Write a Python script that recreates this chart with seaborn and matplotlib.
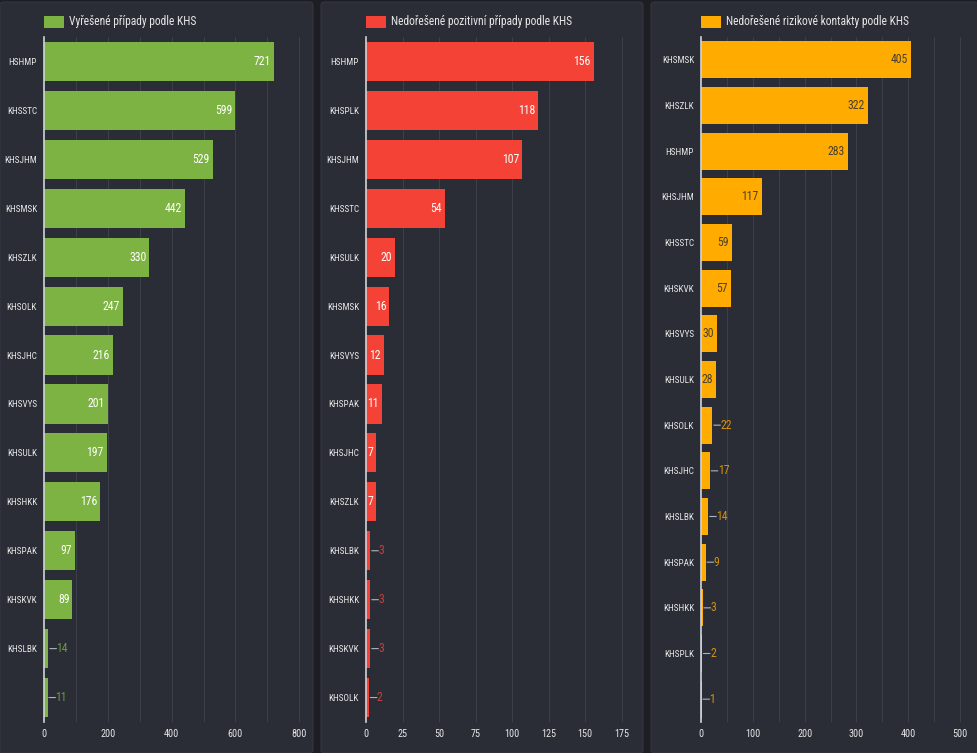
import matplotlib
matplotlib.use("Agg")
import matplotlib.pyplot as plt
from matplotlib import font_manager as fm
from matplotlib.patches import FancyBboxPatch, Rectangle
import seaborn as sns
import pandas as pd
import numpy as np

# ---------------- data ----------------
titles = ["Vyřešené případy podle KHS",
          "Nedořešené pozitivní případy podle KHS",
          "Nedořešené rizikové kontakty podle KHS"]

cat_solved = ["HSHMP", "KHSSTC", "KHSJHM", "KHSMSK", "KHSZLK", "KHSOLK", "KHSJHC",
              "KHSVYS", "KHSULK", "KHSHKK", "KHSPAK", "KHSKVK", "KHSLBK", ""]
val_solved = [721, 599, 529, 442, 330, 247, 216, 201, 197, 176, 97, 89, 14, 11]
lab_solved = [True] * 14

cat_pos = ["HSHMP", "KHSPLK", "KHSJHM", "KHSSTC", "KHSULK", "KHSMSK", "KHSVYS",
           "KHSPAK", "KHSJHC", "KHSZLK", "KHSLBK", "KHSHKK", "KHSKVK", "KHSOLK"]
val_pos = [156, 118, 107, 54, 20, 16, 12, 11, 7, 7, 3, 3, 3, 2]
lab_pos = [True] * 14

cat_cont = ["KHSMSK", "KHSZLK", "HSHMP", "KHSJHM", "KHSSTC", "KHSKVK", "KHSVYS",
            "KHSULK", "KHSOLK", "KHSJHC", "KHSLBK", "KHSPAK", "KHSHKK", "KHSPLK", ""]
val_cont = [405, 322, 283, 117, 59, 57, 30, 28, 22, 17, 14, 9, 3, 2, 1]
lab_cont = [True] * 15

x_ticks = [[0, 200, 400, 600, 800],
           [0, 25, 50, 75, 100, 125, 150, 175],
           [0, 100, 200, 300, 400, 500]]

# ---------------- style ----------------
W, H = 978, 753
FIG_BG = "#1c1e23"
PANEL_BG = "#2a2d36"
GRID = "#3b3f49"
TXT = "#e6e6e6"
LEADER = "#aeb3bb"
colors = ["#7cb342", "#f44336", "#ffab00"]
inside_text = ["white", "white", "#4a4030"]
outside_thresh = [20, 5, 25]      # values below are labelled outside
x_max = [818, 182, 519]
grid_step = [100, 25, 50]
bar_w = [0.8, 0.8, 0.81]

available = {f.name for f in fm.fontManager.ttflist}
font_choice = "Roboto"
for cand in ["Roboto Condensed", "Liberation Sans Narrow", "Open Sans Condensed",
             "Archivo Narrow", "PT Sans Narrow"]:
    if cand in available:
        font_choice = cand
        break
plt.rcParams["font.family"] = [font_choice, "DejaVu Sans"]

fig = plt.figure(figsize=(W / 100, H / 100), dpi=100, facecolor=FIG_BG)

panels_px = [(0, 313), (321, 643), (651, 978)]
axes_px = [(44, 305), (366, 632), (701, 970)]
ax_top, ax_bot = 37, 722

for (px0, px1) in panels_px:
    fig.patches.append(FancyBboxPatch((px0 / W, 0), (px1 - px0) / W, (H - 2) / H,
                                      boxstyle="round,pad=0,rounding_size=0.004",
                                      transform=fig.transFigure, facecolor=PANEL_BG,
                                      edgecolor="#34373f", linewidth=0.8, zorder=-10))

datasets = [(cat_solved, val_solved, lab_solved),
            (cat_pos, val_pos, lab_pos),
            (cat_cont, val_cont, lab_cont)]

for i, ((cats, vals, labs), (a0, a1)) in enumerate(zip(datasets, axes_px)):
    ax = fig.add_axes([a0 / W, (H - ax_bot) / H, (a1 - a0) / W, (ax_bot - ax_top) / H])
    ax.set_facecolor("none")
    ax.set_zorder(1)
    df = pd.DataFrame({"cat": cats, "val": vals})
    sns.barplot(data=df, y="cat", x="val", orient="h", color=colors[i],
                saturation=1, width=bar_w[i], ax=ax, order=cats)
    ax.set_xlim(0, x_max[i])
    n = len(cats)
    ax.set_ylim(n - 0.5, -0.5)
    ax.set_xlabel("")
    ax.set_ylabel("")
    ax.set_xticks(x_ticks[i])
    ax.set_xticklabels([str(t) for t in x_ticks[i]])
    # grid
    for gx in np.arange(grid_step[i], x_max[i], grid_step[i]):
        ax.axvline(gx, color=GRID, lw=0.8, zorder=0)
    for s in ["top", "right", "bottom"]:
        ax.spines[s].set_visible(False)
    ax.spines["left"].set_color("#cfd3da")
    ax.spines["left"].set_linewidth(1.2)
    ax.spines["left"].set_zorder(5)
    ax.tick_params(axis="both", length=0, colors=TXT)
    ax.tick_params(axis="y", pad=5, labelsize=6.6)
    ax.tick_params(axis="x", pad=5, labelsize=7.3)

    # value labels
    to_px = (a1 - a0) / x_max[i]
    for j, (v, show) in enumerate(zip(vals, labs)):
        if not show:
            continue
        if v >= outside_thresh[i]:
            ax.annotate(str(v), xy=(v, j), xytext=(-3, 0), textcoords="offset pixels",
                        ha="right", va="center", color=inside_text[i], fontsize=8.5)
        else:
            ax.annotate("", xy=(v, j), xytext=(v + 8 / to_px, j),
                        arrowprops=dict(arrowstyle="-", color=LEADER, lw=0.8,
                                        shrinkA=0, shrinkB=1))
            ax.annotate(str(v), xy=(v, j), xytext=(8, 0), textcoords="offset pixels",
                        ha="left", va="center", color=colors[i], fontsize=8.5, alpha=0.8)

    # legend (manual)
    fig.patches.append(Rectangle((a0 / W, (H - 28) / H), 20 / W, 12 / H,
                                 transform=fig.transFigure, facecolor=colors[i],
                                 edgecolor="none", zorder=2))
    fig.text((a0 + 25) / W, (H - 22) / H, titles[i], color=TXT, fontsize=8.3,
             ha="left", va="center")

fig.savefig("out.png", dpi=100, facecolor=FIG_BG)
